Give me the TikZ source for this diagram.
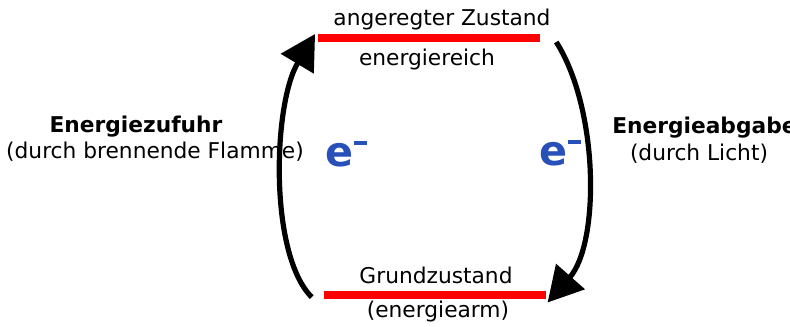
\documentclass[tikz,border=0pt]{standalone}
\usepackage{fontspec}
\setmainfont{DejaVu Sans}
\usepackage{xcolor}
\usetikzlibrary{positioning, arrows.meta}

\definecolor{eblue}{RGB}{40,80,185}
\newcommand{\chargeminus}{\hspace{0.5pt}\rule[15.5pt]{9.5pt}{3pt}}

\begin{document}
\begin{tikzpicture}[x=0.75pt, y=-0.75pt, >={Triangle[length=26pt, width=28pt]},
    every node/.style={font=\fontsize{16.3}{19}\selectfont, inner sep=0pt},
    level/.style={fill=red, minimum width=166.5pt, minimum height=6pt},
    electron/.style={anchor=base west, text=eblue, font=\fontsize{31}{34}\selectfont\bfseries},
    transfer/.style={->, line width=3.9pt}]
            \useasboundingbox (0,0) rectangle (790,326);

            % energy levels
            \node[level] (upper) at (429,38) {};
            \node[level] (lower) at (435,294.5) {};

            \node[anchor=base] (uppername) at (442,25) {angeregter Zustand};
            \node[anchor=base] (upperdesc) at (427,65) {energiereich};
            \node[anchor=base] (lowername) at (436,283) {Grundzustand};
            \node[anchor=base] (lowerdesc) at (438,317) {(energiearm)};

            \node[anchor=base, font=\fontsize{16.3}{19}\selectfont\bfseries] (supply) at (136,132) {Energiezufuhr};
            \node[anchor=base] (supplyvia) at (155,158) {(durch brennende Flamme)};
            \node[anchor=base west, font=\fontsize{16.3}{19}\selectfont\bfseries] (release) at (612,133) {Energieabgabe};
            \node[anchor=base] (releasevia) at (699,160) {(durch Licht)};

            \node[electron] (eleft) at (325,166) {e\chargeminus};
            \node[electron] (eright) at (539,165) {e\chargeminus};

            % transitions
            \coordinate (uptail) at ([xshift=-9pt, yshift=-2pt]lower.west);
            \coordinate (uptip) at ([xshift=-2pt, yshift=3pt]upper.west);
            \coordinate (downtail) at ([xshift=12pt, yshift=-3pt]upper.east);
            \coordinate (downtip) at ([xshift=1pt, yshift=-6pt]lower.east);

            \draw[transfer] (uptail) .. controls +(-43,-43) and +(-42,70) .. (uptip);
            \draw[transfer] (downtail) .. controls +(43,68) and +(52,-59) .. (downtip);
        \end{tikzpicture}
\end{document}
